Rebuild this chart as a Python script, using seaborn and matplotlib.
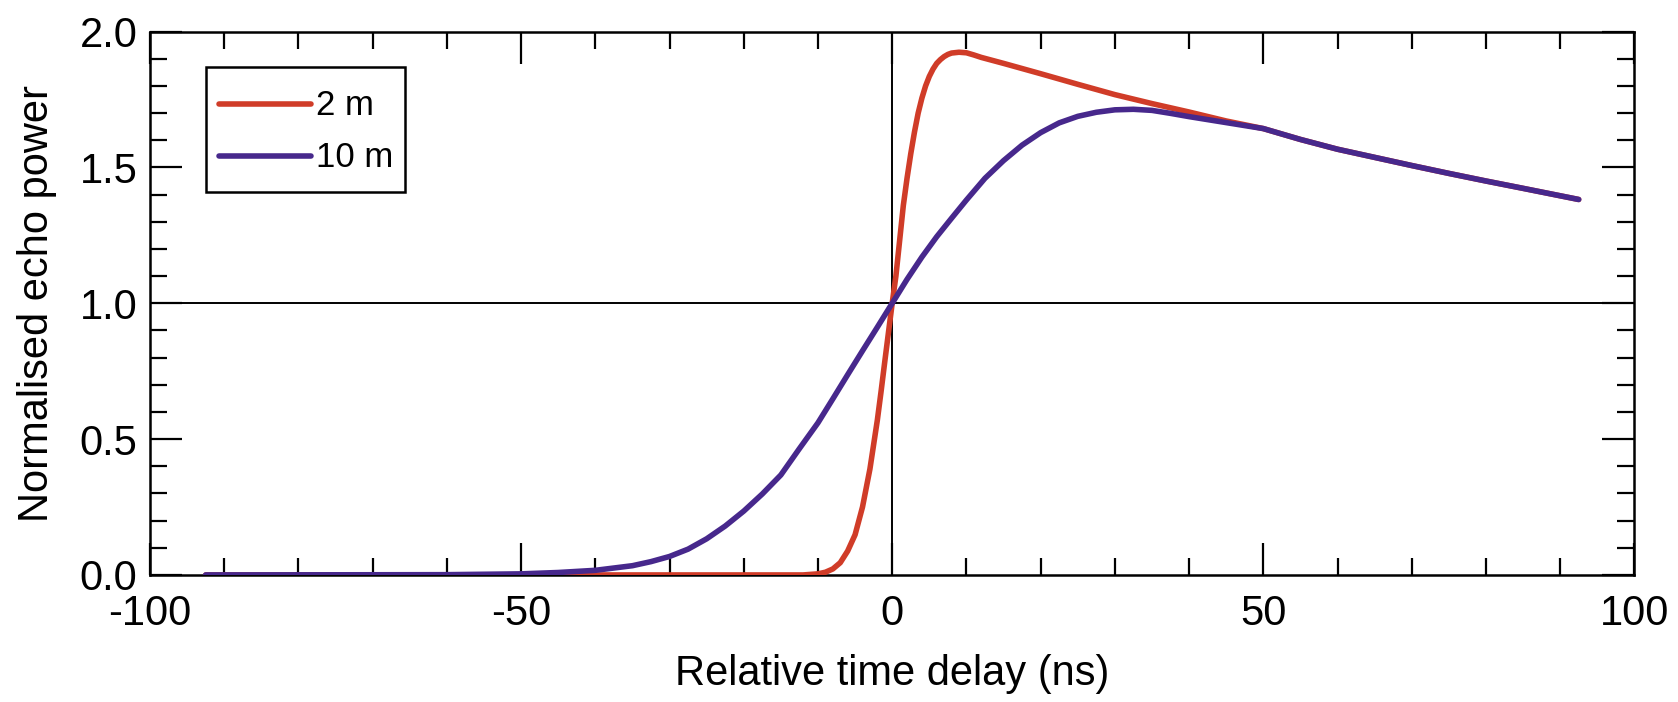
import numpy as np
import pandas as pd
import matplotlib
matplotlib.use("Agg")
import matplotlib.pyplot as plt
from matplotlib.ticker import MultipleLocator, FormatStrFormatter
import seaborn as sns

# ---- data ----
x_2m = [-92.5, -50, -20, -12, -10, -9, -8, -7, -6, -5, -4, -3, -2, -1.5, -1, -0.5,
        0, 0.5, 1, 1.5, 2, 2.5, 3, 3.5, 4, 4.5, 5, 5.5, 6, 6.5, 7, 7.5, 8, 9, 10,
        11, 12, 15, 20, 25, 30, 35, 40, 45, 50, 55, 60, 65, 70, 75, 80, 85, 92.5]
power_2m = [0.0, 0.0, 0.0, 0.0, 0.004, 0.010, 0.022, 0.045, 0.088, 0.148, 0.25, 0.39,
            0.57, 0.675, 0.785, 0.893, 1.0, 1.10, 1.23, 1.36, 1.46, 1.55, 1.63, 1.70,
            1.755, 1.80, 1.835, 1.862, 1.883, 1.897, 1.908, 1.916, 1.921, 1.924, 1.922,
            1.914, 1.905, 1.883, 1.845, 1.806, 1.768, 1.735, 1.704, 1.671, 1.643,
            1.603, 1.567, 1.537, 1.507, 1.478, 1.45, 1.423, 1.382]
x_10m = [-92.5, -60, -50, -45, -40, -35, -32.5, -30, -27.5, -25, -22.5, -20, -17.5,
         -15, -12.5, -10, -8, -6, -4, -2, 0, 2, 4, 6, 8, 10, 12.5, 15, 17.5, 20,
         22.5, 25, 27.5, 30, 32.5, 35, 37.5, 40, 45, 50, 55, 60, 65, 70, 75, 80,
         85, 92.5]
power_10m = [0.0, 0.001, 0.004, 0.009, 0.017, 0.034, 0.049, 0.068, 0.095, 0.133, 0.18,
             0.235, 0.298, 0.368, 0.465, 0.56, 0.648, 0.737, 0.825, 0.912, 1.0, 1.088,
             1.17, 1.245, 1.313, 1.38, 1.46, 1.525, 1.582, 1.628, 1.664, 1.688, 1.703,
             1.712, 1.714, 1.710, 1.699, 1.687, 1.665, 1.643, 1.603, 1.567, 1.537,
             1.507, 1.478, 1.45, 1.423, 1.382]
series_names = ["2 m", "10 m"]
series_colors = ["#d03c28", "#47288c"]
x_ticks = [-100, -50, 0, 50, 100]
y_ticks = [0.0, 0.5, 1.0, 1.5, 2.0]

df = pd.DataFrame({
    "x": x_2m + x_10m,
    "y": power_2m + power_10m,
    "series": [series_names[0]] * len(x_2m) + [series_names[1]] * len(x_10m),
})

sns.set_theme(style="ticks")
plt.rcParams["font.family"] = ["Liberation Sans", "DejaVu Sans"]
plt.rcParams["axes.unicode_minus"] = False
plt.rcParams["text.color"] = "black"
plt.rcParams["axes.labelcolor"] = "black"
plt.rcParams["xtick.color"] = "black"
plt.rcParams["ytick.color"] = "black"
plt.rcParams["xtick.labelcolor"] = "black"
plt.rcParams["ytick.labelcolor"] = "black"

fig, ax = plt.subplots(figsize=(16.78, 7.02), dpi=100)
fig.subplots_adjust(left=0.0894, right=0.974, top=0.955, bottom=0.181)

ax.axhline(1.0, color="black", lw=1.4, zorder=1)
ax.axvline(0.0, color="black", lw=1.4, zorder=1)

sns.lineplot(data=df, x="x", y="y", hue="series", hue_order=series_names,
             palette=dict(zip(series_names, series_colors)), lw=4.0, ax=ax,
             legend=True, zorder=3, sort=True, estimator=None)

ax.set_xlim(-100, 100)
ax.set_ylim(0, 2.0)
ax.set_xticks(x_ticks)
ax.set_yticks(y_ticks)
ax.xaxis.set_minor_locator(MultipleLocator(10))
ax.yaxis.set_minor_locator(MultipleLocator(0.1))
ax.yaxis.set_major_formatter(FormatStrFormatter("%.1f"))

for s in ax.spines.values():
    s.set_visible(True)
    s.set_linewidth(1.8)
    s.set_color("black")

ax.tick_params(which="both", direction="in", top=True, right=True,
               color="black", width=1.6)
ax.tick_params(which="major", length=23, labelsize=30, pad=9)
ax.tick_params(which="minor", length=12)
ax.tick_params(axis="x", which="major", pad=14)

ax.set_xlabel("Relative time delay (ns)", fontsize=30, labelpad=14)
ax.set_ylabel("Normalised echo power", fontsize=30, labelpad=16)

leg = ax.legend(loc="upper left", bbox_to_anchor=(0.038, 0.935), fontsize=25,
                frameon=True, fancybox=False, edgecolor="black", framealpha=1,
                handlelength=2.65, handleheight=1.77, borderpad=0.35,
                labelspacing=0.12, handletextpad=0.15, borderaxespad=0)
leg.get_frame().set_linewidth(1.8)
for ln in leg.get_lines():
    ln.set_linewidth(4.0)
    yd = np.asarray(ln.get_ydata(), dtype=float)
    ln.set_ydata(yd - 5.0)

fig.savefig("out.png", dpi=100)
